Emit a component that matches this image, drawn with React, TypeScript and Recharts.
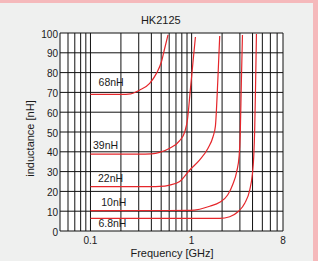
import { LineChart, Line, XAxis, YAxis, CartesianGrid, ReferenceDot } from 'recharts';

const FONT = '"Liberation Sans", Arial, Helvetica, sans-serif';
const RED = '#e5262b';
const PINK = '#f5b9bb';
const PANEL = '#eff0ef';

// frequency [GHz] grid lines, only 0.1 / 1 / 8 get a label
const FREQ_TICKS = [0.05, 0.06, 0.07, 0.08, 0.09, 0.1, 0.2, 0.3, 0.4, 0.5, 0.6, 0.7, 0.8, 0.9, 1, 2, 3, 4, 5, 6, 7, 8];
const FREQ_LABELS = [0.1, 1, 8];
const IND_TICKS = [0, 10, 20, 30, 40, 50, 60, 70, 80, 90, 100];

// curves: frequency [GHz] / inductance [nH]
const F_68 = [0.1, 0.2, 0.25, 0.307, 0.385, 0.449, 0.503, 0.542, 0.584];
const L_68 = [69, 69, 69.3, 71.2, 74.6, 79.6, 85.5, 92.3, 99];

const F_39 = [0.1, 0.3, 0.4, 0.483, 0.607, 0.762, 0.854, 0.908, 0.97, 1.03, 1.09];
const L_39 = [38.8, 38.8, 39, 39.7, 41.8, 45.6, 50, 56, 71, 85, 98];

const F_22 = [0.1, 0.4, 0.483, 0.607, 0.762, 0.958, 1.202, 1.452, 1.627, 1.718, 1.811, 1.895];
const L_22 = [22.4, 22.4, 22.5, 23.2, 25, 30.8, 35.9, 41.8, 47.6, 53, 75, 98.5];

const F_10 = [0.1, 0.958, 1.202, 1.509, 1.895, 2.27, 2.55, 2.79, 2.95, 3.02, 3.1, 3.18];
const L_10 = [10.3, 10.4, 11, 12.5, 14.5, 18.2, 23.5, 30, 38, 48, 75, 99];

const F_6_8 = [0.1, 1.895, 2.38, 2.87, 3.35, 3.75, 3.99, 4.11, 4.2, 4.29, 4.37];
const L_6_8 = [6.4, 6.4, 7.2, 9.7, 14, 20.7, 29, 37.5, 51, 75, 99.5];

const CURVE_NAMES = ['68nH', '39nH', '22nH', '10nH', '6.8nH'];
const LABEL_F = [0.16, 0.141, 0.158, 0.17, 0.165];
const LABEL_L = [74.9, 43.4, 26.5, 14.3, 3.8];

const zip = (fs: number[], ls: number[]) => fs.map((f, i) => ({ f, v: ls[i] }));

const curves = [
  zip(F_68, L_68),
  zip(F_39, L_39),
  zip(F_22, L_22),
  zip(F_10, L_10),
  zip(F_6_8, L_6_8),
];

export default function App() {
  return (
    <div style={{ position: 'fixed', left: 0, top: 0, width: 318, height: 261, background: PINK }}>
      <div style={{ position: 'absolute', left: 0, top: 3, width: 313, height: 258, background: PANEL }} />
      <div style={{ position: 'absolute', left: 0, top: 0 }}>
        <LineChart width={318} height={261} margin={{ top: 33, right: 35, bottom: 0, left: 0 }}>
          <CartesianGrid stroke="#111" strokeOpacity={1} fill="#fff" />
          <XAxis
            dataKey="f"
            type="number"
            scale="log"
            domain={[0.05, 8]}
            allowDataOverflow
            ticks={FREQ_TICKS}
            interval={0}
            height={30}
            axisLine={false}
            tickLine={false}
            tickSize={0}
            tickMargin={6}
            tickFormatter={(t: number) => (FREQ_LABELS.includes(t) ? String(t) : '')}
            tick={{ fontSize: 10, fill: '#1a1a1a', fontFamily: FONT }}
          />
          <YAxis
            type="number"
            domain={[0, 100]}
            ticks={IND_TICKS}
            interval={0}
            width={60}
            axisLine={false}
            tickLine={false}
            tickSize={0}
            tickMargin={2}
            tick={{ fontSize: 10, fill: '#1a1a1a', fontFamily: FONT, dy: 1 }}
          />
          {curves.map((d, i) => (
            <Line
              key={CURVE_NAMES[i]}
              data={d}
              dataKey="v"
              type="monotone"
              stroke={RED}
              strokeWidth={1.2}
              dot={false}
              activeDot={false}
              isAnimationActive={false}
            />
          ))}
          {CURVE_NAMES.map((name, i) => (
            <ReferenceDot
              key={'lbl' + name}
              x={LABEL_F[i]}
              y={LABEL_L[i]}
              r={0}
              fill="none"
              stroke="none"
              label={{ value: name, position: 'center', fontSize: 10.5, fill: '#1a1a1a', fontFamily: FONT }}
            />
          ))}
          <text x={160.8} y={24} textAnchor="middle" fontSize={11} fill="#1a1a1a" fontFamily={FONT}>
            HK2125
          </text>
          <text x={172} y={256.6} textAnchor="middle" fontSize={11} fill="#1a1a1a" fontFamily={FONT}>
            Frequency [GHz]
          </text>
          <text
            transform="translate(34.3,138.5) rotate(-90)"
            textAnchor="middle"
            fontSize={11}
            fill="#1a1a1a"
            fontFamily={FONT}
          >
            inductance [nH]
          </text>
        </LineChart>
      </div>
    </div>
  );
}
